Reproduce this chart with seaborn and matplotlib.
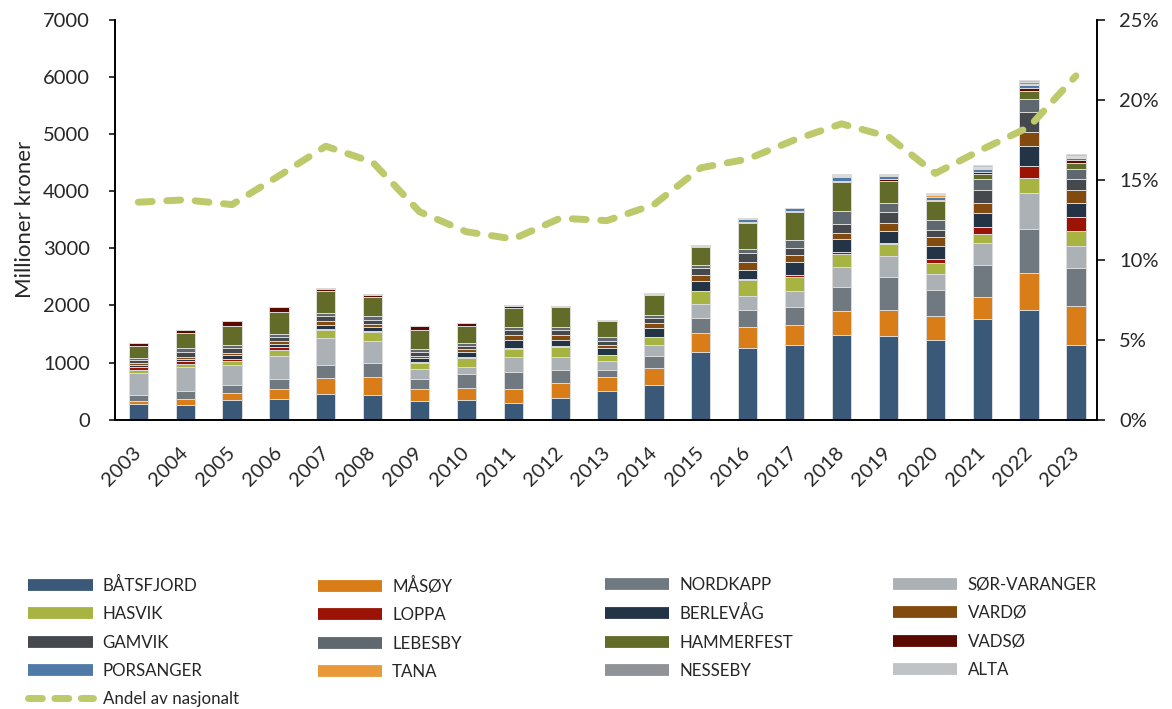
import numpy as np
import pandas as pd
import matplotlib
matplotlib.use("Agg")
import matplotlib.pyplot as plt
import matplotlib.transforms as mtransforms
from matplotlib.lines import Line2D
from matplotlib.ticker import FuncFormatter
import seaborn as sns

years = [str(y) for y in range(2003, 2024)]

batsfjord = [275, 262, 350, 367, 450, 437, 321, 338, 297, 379, 502, 601, 1178, 1254, 1301, 1482, 1470, 1388, 1756, 1913, 1301]
masoy = [58, 99, 117, 175, 280, 315, 216, 222, 245, 268, 245, 298, 338, 368, 356, 420, 449, 420, 391, 653, 682]
nordkapp = [105, 140, 146, 175, 222, 233, 181, 233, 292, 216, 117, 210, 262, 303, 309, 426, 572, 455, 554, 770, 665]
sor_varanger = [380, 420, 338, 402, 478, 391, 175, 128, 262, 233, 158, 204, 245, 233, 280, 350, 368, 280, 385, 636, 397]
hasvik = [52, 52, 70, 105, 134, 152, 99, 152, 140, 169, 105, 128, 227, 280, 257, 222, 210, 198, 169, 257, 257]
loppa = [47, 47, 35, 41, 29, 18, 12, 18, 23, 18, 12, 12, 12, 18, 29, 29, 23, 70, 117, 204, 245]
berlevag = [35, 41, 70, 64, 58, 76, 70, 93, 128, 105, 117, 152, 175, 163, 222, 227, 210, 227, 239, 350, 239]
vardo = [35, 41, 41, 41, 70, 52, 41, 52, 93, 93, 52, 88, 99, 134, 122, 111, 134, 158, 175, 262, 233]
gamvik = [52, 82, 82, 70, 88, 76, 70, 52, 82, 82, 76, 82, 128, 163, 128, 158, 193, 122, 227, 350, 193]
lebesby = [40, 64, 64, 58, 58, 64, 52, 47, 64, 64, 58, 58, 47, 76, 146, 227, 163, 187, 198, 216, 175]
hammerfest = [204, 274, 327, 385, 391, 338, 327, 303, 327, 338, 280, 350, 309, 449, 478, 502, 391, 327, 99, 152, 99]
vadso = [52, 52, 82, 82, 29, 35, 70, 47, 41, 23, 12, 23, 18, 12, 18, 18, 35, 23, 29, 47, 64]
porsanger = [0, 0, 0, 0, 6, 6, 0, 0, 4, 3, 0, 4, 10, 64, 58, 82, 52, 52, 47, 47, 29]
tana = [0, 0, 0, 0, 6, 4, 0, 0, 3, 2, 0, 3, 8, 8, 3, 18, 12, 23, 18, 23, 23]
nesseby = [0, 0, 0, 0, 5, 4, 0, 0, 3, 2, 2, 2, 6, 5, 3, 15, 12, 17, 25, 29, 18]
alta = [5, 5, 5, 5, 6, 4, 3, 3, 3, 3, 3, 3, 5, 5, 3, 14, 12, 18, 27, 41, 29]

andel = [13.6, 13.75, 13.45, 15.25, 17.1, 16.1, 13.0, 11.75, 11.3, 12.6, 12.45, 13.45,
         15.75, 16.3, 17.5, 18.5, 17.7, 15.4, 16.9, 18.3, 21.5]

series_names = ["BÅTSFJORD", "MÅSØY", "NORDKAPP", "SØR-VARANGER", "HASVIK", "LOPPA",
                "BERLEVÅG", "VARDØ", "GAMVIK", "LEBESBY", "HAMMERFEST", "VADSØ",
                "PORSANGER", "TANA", "NESSEBY", "ALTA"]
series_values = [batsfjord, masoy, nordkapp, sor_varanger, hasvik, loppa, berlevag, vardo,
                 gamvik, lebesby, hammerfest, vadso, porsanger, tana, nesseby, alta]
colors = ["#3A5877", "#D87D17", "#717980", "#ACB1B6", "#A8B442", "#9A1305",
          "#243447", "#834A10", "#45494D", "#5F686E", "#636B28", "#5B0A02",
          "#4F79A6", "#E9993A", "#8F9398", "#BFC3C6"]
line_color = "#BDC96A"

sns.set_theme(style="white")
plt.rcParams["font.family"] = ["Lato", "DejaVu Sans"]

df = pd.DataFrame(dict(zip(series_names, series_values)), index=years)
cum = df.cumsum(axis=1)

fig = plt.figure(figsize=(11.72, 7.09), dpi=100)
ax = fig.add_axes([0.098, 0.408, 0.838, 0.564])

for name, col in reversed(list(zip(series_names, colors))):
    sns.barplot(x=years, y=cum[name].values, color=col, saturation=1, width=0.41,
                edgecolor="#dcdcdc", linewidth=0.7, errorbar=None, ax=ax)

ax2 = ax.twinx()
sns.lineplot(x=np.arange(len(years)), y=andel, ax=ax2, color=line_color,
             linewidth=5, dashes=False)
ln = ax2.lines[0]
ln.set_dashes([2.0, 2.1])
ln.set_dash_capstyle("round")
ln.set_solid_capstyle("round")

ax.set_xlim(-0.5, 20.45)
ax.set_ylim(0, 7000)
ax.set_yticks(range(0, 7001, 1000))
ax2.set_ylim(0, 25)
ax2.set_yticks(range(0, 26, 5))
ax2.yaxis.set_major_formatter(FuncFormatter(lambda v, p: f"{int(v)}%"))

ax.set_xticks(range(len(years)))
ax.set_xticklabels(years, rotation=45, ha="right", va="center", rotation_mode="anchor",
                   fontsize=14.5)
for lab in ax.get_xticklabels():
    lab.set_transform(lab.get_transform() + mtransforms.ScaledTranslation(8 / 100, 0, fig.dpi_scale_trans))
ax.tick_params(axis="x", length=0, pad=22)
ax.tick_params(axis="y", labelsize=14.5, length=4, width=1.3, direction="out", pad=14, left=True)
ax2.tick_params(axis="y", labelsize=14.5, length=6, width=1.3, direction="out", pad=10, right=True)
ax.set_xlabel("")
ax.set_ylabel("Millioner kroner", fontsize=16, labelpad=6)

for a in (ax, ax2):
    a.spines["top"].set_visible(False)
    for s in ("left", "right", "bottom"):
        a.spines[s].set_color("black")
        a.spines[s].set_linewidth(1.4)
ax2.spines["left"].set_visible(False)
ax.spines["right"].set_visible(False)
ax2.spines["bottom"].set_visible(False)
ax.grid(False)
ax2.grid(False)

# Legend: four columns, row-wise order
handles = [Line2D([0], [0], color=c, linewidth=8.5, solid_capstyle="butt") for c in colors]
line_handle = Line2D([0], [0], color=line_color, linewidth=5, dashes=[2.0, 1.8],
                     dash_capstyle="round")
col_x = [0.024, 0.271, 0.516, 0.762]
for ci in range(4):
    hs = [handles[i] for i in range(ci, 16, 4)]
    ls = [series_names[i] for i in range(ci, 16, 4)]
    if ci == 0:
        hs.append(line_handle)
        ls.append("Andel av nasjonalt")
    fig.legend(hs, ls, loc="upper left", bbox_to_anchor=(col_x[ci], 0.186),
               frameon=False, fontsize=12.2, ncol=1, handlelength=3.8,
               handletextpad=0.6, labelspacing=0.72, borderpad=0, borderaxespad=0)

fig.savefig("out.png", dpi=100)
